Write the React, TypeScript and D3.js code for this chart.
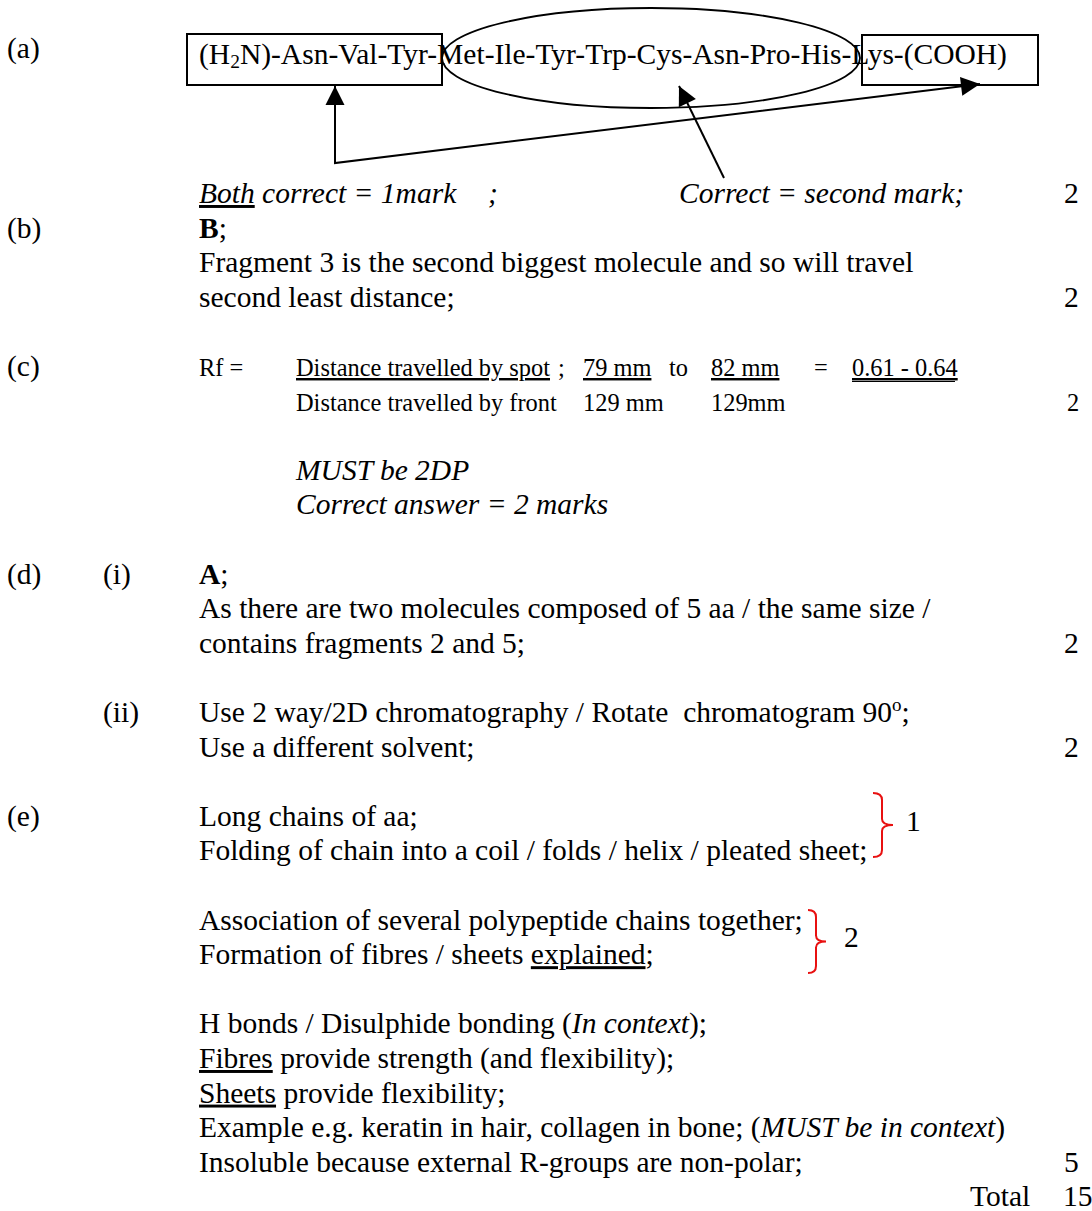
import React from 'react';
import * as d3 from 'd3';

// peptide chain shown in part (a)
const residues = ['Asn', 'Val', 'Tyr', 'Met', 'Ile', 'Tyr', 'Trp', 'Cys', 'Asn', 'Pro', 'His', 'Lys'];
const partLabels = ['(a)', '(b)', '(c)', '(d)', '(e)'];
const subLabels = ['(i)', '(ii)'];
const aNotes = ['Both', ' correct = 1mark', ';', 'Correct = second mark;'];
const bLines = ['Fragment 3 is the second biggest molecule and so will travel', 'second least distance;'];
const rfNumerators = ['79 mm', '82 mm'];
const rfDenominators = ['129 mm', '129mm'];
const rfRange = '0.61 - 0.64';
const cNotes = ['MUST be 2DP', 'Correct answer = 2 marks'];
const diLines = ['As there are two molecules composed of 5 aa / the same size /', 'contains fragments 2 and 5;'];
const diiLines = ['Use 2 way/2D chromatography / Rotate  chromatogram 90', 'Use a different solvent;'];
const eGroup1 = ['Long chains of aa;', 'Folding of chain into a coil / folds / helix / pleated sheet;'];
const eGroup2 = ['Association of several polypeptide chains together;', 'Formation of fibres / sheets '];
const eGroup3 = ['Disulphide', 'provide strength (and flexibility);', 'provide flexibility;',
  'Example e.g. keratin in hair, collagen in bone; (', 'Insoluble because external R-groups are non-polar;'];
const braceMarks = ['1', '2'];
const markValues = ['2', '2', '2', '2', '2', '5'];
const totalMarks = '15';

export default function App() {
  const W = 1092;
  const H = 1211;
  const fs = 29.5;
  const fsSmall = 24.4;
  const font = '"Liberation Serif", "Times New Roman", serif';

  // every answer line sits on a fixed baseline grid
  const row = d3.scaleLinear().domain([0, 29]).range([203, 1206.4]);
  const col = { label: 7, sub: 103, text: 199, indent: 296, mark: 1064 };
  const markRows = [0, 3, 6, 13, 16, 28];

  const line = d3.line();

  // filled triangle arrow head pointing at tip
  const arrowHead = (from: number[], tip: number[], len = 19, half = 9.5) => {
    const dx = tip[0] - from[0];
    const dy = tip[1] - from[1];
    const d = Math.hypot(dx, dy);
    const ux = dx / d;
    const uy = dy / d;
    const bx = tip[0] - ux * len;
    const by = tip[1] - uy * len;
    return `${line([
      [tip[0], tip[1]],
      [bx - uy * half, by + ux * half],
      [bx + uy * half, by - ux * half],
    ])}Z`;
  };

  // curly brace opening to the left, point on the right
  const brace = (x0: number, x1: number, y0: number, y1: number) => {
    const p = d3.path();
    const xs = (x0 + x1) / 2 - 1;
    const ym = (y0 + y1) / 2;
    p.moveTo(x0, y0);
    p.quadraticCurveTo(xs, y0, xs, y0 + 7);
    p.lineTo(xs, ym - 6);
    p.quadraticCurveTo(xs, ym, x1, ym);
    p.quadraticCurveTo(xs, ym, xs, ym + 6);
    p.lineTo(xs, y1 - 7);
    p.quadraticCurveTo(xs, y1, x0, y1);
    return p.toString();
  };

  const corner = [335, 163];
  const tipBox1 = [335, 86];
  const tipBox2 = [980, 84];
  const tail3 = [724, 178];
  const tip3 = [679, 86];

  const ul = { textDecoration: 'underline' } as React.CSSProperties;

  return (
    <svg
      width={W}
      height={H}
      viewBox={`0 0 ${W} ${H}`}
      style={{ position: 'absolute', left: 0, top: 0, background: '#fff' }}
      fontFamily={font}
      fontSize={fs}
      fill="#000"
      xmlSpace="preserve"
    >
      <rect width={W} height={H} fill="#fff" />
      <g style={{ whiteSpace: 'pre' }}>
        {/* part (a) diagram */}
        <text x={col.label} y={58}>{partLabels[0]}</text>
        <rect x={187} y={34} width={255} height={51} fill="none" stroke="#000" strokeWidth={2} />
        <ellipse cx={651} cy={58} rx={209} ry={50} fill="none" stroke="#000" strokeWidth={1.8} />
        <rect x={862} y={35} width={176} height={50} fill="none" stroke="#000" strokeWidth={2} />
        <text x={col.text} y={64}>
          (H<tspan fontSize={19.5} dy={4}>2</tspan>
          <tspan dy={-4}>{`N)-${residues.join('-')}-(COOH)`}</tspan>
        </text>
        <path d={line([tipBox1, corner, tipBox2]) || ''} fill="none" stroke="#000" strokeWidth={2} />
        <path d={arrowHead(corner, tipBox1)} fill="#000" />
        <path d={arrowHead(corner, tipBox2)} fill="#000" />
        <path d={line([tail3, tip3]) || ''} fill="none" stroke="#000" strokeWidth={2} />
        <path d={arrowHead(tail3, tip3)} fill="#000" />

        <text x={col.text} y={row(0)} fontStyle="italic">
          <tspan style={ul}>{aNotes[0]}</tspan>{aNotes[1]}
        </text>
        <text x={488} y={row(0)} fontStyle="italic">{aNotes[2]}</text>
        <text x={679} y={row(0)} fontStyle="italic">{aNotes[3]}</text>

        {/* part (b) */}
        <text x={col.label} y={row(1)}>{partLabels[1]}</text>
        <text x={col.text} y={row(1)}><tspan fontWeight="bold">B</tspan>;</text>
        {bLines.map((t, i) => (
          <text key={t} x={col.text} y={row(2 + i)}>{t}</text>
        ))}

        {/* part (c) */}
        <text x={col.label} y={row(5)}>{partLabels[2]}</text>
        <g fontSize={fsSmall}>
          <text x={col.text} y={row(5)}>Rf =</text>
          <text x={col.indent} y={row(5)} style={ul}>Distance travelled by spot</text>
          <text x={558} y={row(5)}>;</text>
          <text x={583} y={row(5)} style={ul}>{rfNumerators[0]}</text>
          <text x={669} y={row(5)}>to</text>
          <text x={711} y={row(5)} style={ul}>{rfNumerators[1]}</text>
          <text x={814} y={row(5)}>=</text>
          <text x={852} y={row(5)} style={ul}>{rfRange}</text>
          <line x1={852} x2={955} y1={row(5) + 5.5} y2={row(5) + 5.5} stroke="#000" strokeWidth={1.1} />
          <text x={col.indent} y={row(6)}>Distance travelled by front</text>
          <text x={583} y={row(6)}>{rfDenominators[0]}</text>
          <text x={711} y={row(6)}>{rfDenominators[1]}</text>
        </g>
        {cNotes.map((t, i) => (
          <text key={t} x={col.indent} y={row(8 + i)} fontStyle="italic">{t}</text>
        ))}

        {/* part (d) */}
        <text x={col.label} y={row(11)}>{partLabels[3]}</text>
        <text x={col.sub} y={row(11)}>{subLabels[0]}</text>
        <text x={col.text} y={row(11)}><tspan fontWeight="bold">A</tspan>;</text>
        {diLines.map((t, i) => (
          <text key={t} x={col.text} y={row(12 + i)}>{t}</text>
        ))}
        <text x={col.sub} y={row(15)}>{subLabels[1]}</text>
        <text x={col.text} y={row(15)} xmlSpace="preserve">
          {diiLines[0]}<tspan fontSize={19} dy={-11}>o</tspan><tspan dy={11}>;</tspan>
        </text>
        <text x={col.text} y={row(16)}>{diiLines[1]}</text>

        {/* part (e) */}
        <text x={col.label} y={row(18)}>{partLabels[4]}</text>
        {eGroup1.map((t, i) => (
          <text key={t} x={col.text} y={row(18 + i)}>{t}</text>
        ))}
        <path d={brace(873, 893, 793, 857)} fill="none" stroke="#e81010" strokeWidth={2} />
        <text x={906} y={831}>{braceMarks[0]}</text>

        <text x={col.text} y={row(21)}>{eGroup2[0]}</text>
        <text x={col.text} y={row(22)}>
          {eGroup2[1]}<tspan style={ul}>explained</tspan>;
        </text>
        <path d={brace(808, 826, 910, 973)} fill="none" stroke="#e81010" strokeWidth={2} />
        <text x={844} y={947}>{braceMarks[1]}</text>

        <text x={col.text} y={row(24)}>
          H bonds / {eGroup3[0]} bonding (<tspan fontStyle="italic">In context</tspan>);
        </text>
        <text x={col.text} y={row(25)}>
          <tspan style={ul}>Fibres</tspan> {eGroup3[1]}
        </text>
        <text x={col.text} y={row(26)}>
          <tspan style={ul}>Sheets</tspan> {eGroup3[2]}
        </text>
        <text x={col.text} y={row(27)}>
          {eGroup3[3]}<tspan fontStyle="italic">MUST be in context</tspan>)
        </text>
        <text x={col.text} y={row(28)}>{eGroup3[4]}</text>

        {/* marks column */}
        {markValues.map((m, i) => (
          <text
            key={`m${i}`}
            x={markRows[i] === 6 ? col.mark + 3 : col.mark}
            y={row(markRows[i])}
            fontSize={markRows[i] === 6 ? fsSmall : fs}
          >
            {m}
          </text>
        ))}
        <text x={970} y={row(29)}>Total</text>
        <text x={1063} y={row(29)}>{totalMarks}</text>
      </g>
    </svg>
  );
}
